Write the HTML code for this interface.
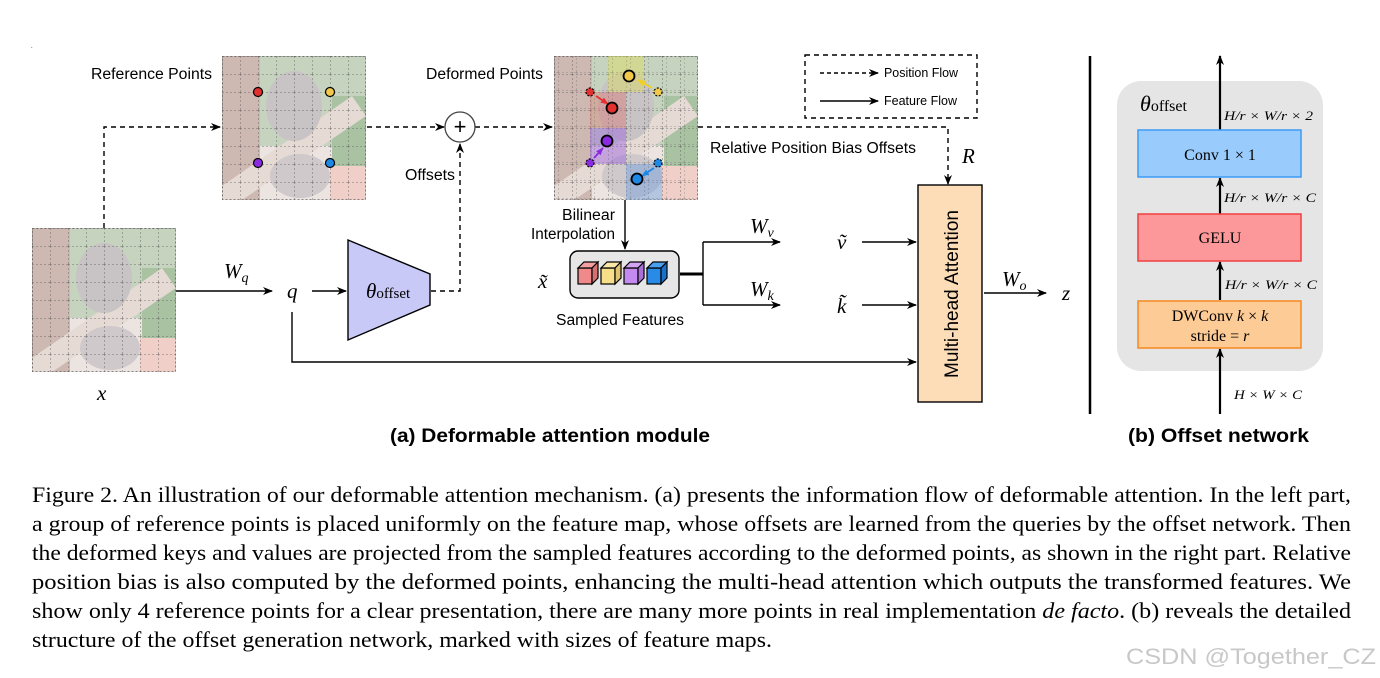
<!DOCTYPE html>
<html><head><meta charset="utf-8"><style>
html,body{margin:0;padding:0;background:#fff}
svg{display:block}
.s{font-family:"Liberation Sans",sans-serif}
.m{font-family:"Liberation Serif",serif;font-style:italic}
.r{font-family:"Liberation Serif",serif}
</style></head><body>
<svg width="1380" height="678" viewBox="0 0 1380 678" xmlns="http://www.w3.org/2000/svg">
<defs>
<marker id="ah" markerWidth="10" markerHeight="10" refX="9" refY="5" orient="auto" markerUnits="userSpaceOnUse"><path d="M0,1 L10,5 L0,9 L3,5 z" fill="#000"/></marker>
<marker id="ahs" markerWidth="8" markerHeight="8" refX="7" refY="4" orient="auto" markerUnits="userSpaceOnUse"><path d="M0,1 L8,4 L0,7 z" fill="context-stroke"/></marker>
<pattern id="grid" width="18" height="18" patternUnits="userSpaceOnUse"><path d="M0,0 H18 M0,0 V18" stroke="#555" stroke-width="0.8" stroke-dasharray="2,2" fill="none"/></pattern>
<g id="cat">
<rect width="144" height="144" fill="#ece4e0"/>
<rect x="0" y="0" width="38" height="144" fill="#cdb8b2"/>
<rect x="38" y="0" width="106" height="90" fill="#c6d4bf"/>
<rect x="110" y="40" width="34" height="70" fill="#a9c2a2"/>
<rect x="108" y="110" width="36" height="34" fill="#f0cfc8"/>
<path d="M0,130 L130,40 L144,60 L20,144 L0,144 z" fill="#e6dad4"/>
<ellipse cx="72" cy="50" rx="28" ry="35" fill="#c8c3c4"/>
<ellipse cx="78" cy="120" rx="30" ry="22" fill="#cfc9cb"/>
<rect width="144" height="144" fill="url(#grid)"/>
<rect x="0.5" y="0.5" width="143" height="143" fill="none" stroke="#666" stroke-width="0.8" stroke-dasharray="2,2"/>
</g>
</defs>

<text x="31" y="48" class="s" font-size="6">.</text>

<use href="#cat" x="32" y="228"/>
<use href="#cat" x="222" y="56"/>
<g>
<use href="#cat" x="554" y="56"/>
<rect x="608" y="56" width="36" height="36" fill="#dede60" opacity="0.45"/>
<rect x="590" y="92" width="36" height="36" fill="#e06060" opacity="0.35"/>
<rect x="590" y="128" width="36" height="36" fill="#9a60e0" opacity="0.45"/>
<rect x="626" y="164" width="36" height="36" fill="#70a0e0" opacity="0.45"/>
<rect x="554" y="56" width="144" height="144" fill="url(#grid)" opacity="0.6"/>
</g>

<circle cx="258" cy="92" r="4.5" fill="#e53030" stroke="#000" stroke-width="1.2"/>
<circle cx="330" cy="92" r="4.5" fill="#f2c84b" stroke="#000" stroke-width="1.2"/>
<circle cx="258" cy="163" r="4.5" fill="#8a2be2" stroke="#000" stroke-width="1.2"/>
<circle cx="330" cy="163" r="4.5" fill="#1e88e5" stroke="#000" stroke-width="1.2"/>

<g stroke-width="1.2">
<circle cx="590" cy="92" r="4" fill="#e53030" stroke="#000" stroke-dasharray="2,1.5"/>
<circle cx="658" cy="92" r="4" fill="#f2c84b" stroke="#000" stroke-dasharray="2,1.5"/>
<circle cx="590" cy="163" r="4" fill="#8a2be2" stroke="#000" stroke-dasharray="2,1.5"/>
<circle cx="658" cy="163" r="4" fill="#1e88e5" stroke="#000" stroke-dasharray="2,1.5"/>
<line x1="596" y1="96" x2="608" y2="104" stroke="#e53030" stroke-width="1.8" marker-end="url(#ahs)"/>
<line x1="652" y1="88" x2="638" y2="80" stroke="#f0d020" stroke-width="1.8" marker-end="url(#ahs)"/>
<line x1="594" y1="158" x2="603" y2="148" stroke="#8a2be2" stroke-width="1.8" marker-end="url(#ahs)"/>
<line x1="654" y1="168" x2="642" y2="176" stroke="#1e88e5" stroke-width="1.8" marker-end="url(#ahs)"/>
<circle cx="612" cy="108" r="5.5" fill="#e53030" stroke="#000" stroke-width="1.8"/>
<circle cx="629" cy="76" r="5.5" fill="#f2c84b" stroke="#000" stroke-width="1.8"/>
<circle cx="607" cy="141" r="5.5" fill="#8a2be2" stroke="#000" stroke-width="1.8"/>
<circle cx="637" cy="179" r="5.5" fill="#1e88e5" stroke="#000" stroke-width="1.8"/>
</g>

<g class="s" font-size="15.5">
<text x="91" y="79" textLength="121" lengthAdjust="spacingAndGlyphs">Reference Points</text>
<text x="426" y="79" textLength="117" lengthAdjust="spacingAndGlyphs">Deformed Points</text>
<text x="405" y="180" textLength="50" lengthAdjust="spacingAndGlyphs">Offsets</text>
<text x="710" y="153" textLength="206" lengthAdjust="spacingAndGlyphs">Relative Position Bias Offsets</text>
<text x="562" y="220" textLength="53" lengthAdjust="spacingAndGlyphs">Bilinear</text>
<text x="531" y="239" textLength="84" lengthAdjust="spacingAndGlyphs">Interpolation</text>
<text x="556" y="325" textLength="128" lengthAdjust="spacingAndGlyphs">Sampled Features</text>
</g>

<g fill="none" stroke="#000" stroke-width="1.4" stroke-dasharray="5,4">
<path d="M104,228 V127 H220" marker-end="url(#ah)"/>
<path d="M367,127 H444" marker-end="url(#ah)"/>
<path d="M475,127 H552" marker-end="url(#ah)"/>
<path d="M431,291 H460 V144" marker-end="url(#ah)"/>
<path d="M698,127 H948 V184" marker-end="url(#ah)"/>
</g>
<circle cx="460" cy="127" r="15" fill="#fff" stroke="#444" stroke-width="1.3"/>
<text x="460" y="134" class="s" font-size="22" text-anchor="middle">+</text>

<rect x="805" y="55" width="172" height="63" fill="#fff" stroke="#000" stroke-width="1.4" stroke-dasharray="5,4"/>
<line x1="820" y1="73" x2="878" y2="73" stroke="#000" stroke-width="1.4" stroke-dasharray="4,3" marker-end="url(#ah)"/>
<line x1="820" y1="101" x2="878" y2="101" stroke="#000" stroke-width="1.4" marker-end="url(#ah)"/>
<text x="884" y="77" class="s" font-size="12.5" textLength="74" lengthAdjust="spacingAndGlyphs">Position Flow</text>
<text x="884" y="105" class="s" font-size="12.5" textLength="73" lengthAdjust="spacingAndGlyphs">Feature Flow</text>

<g fill="none" stroke="#000" stroke-width="1.4">
<path d="M176,291 H272" marker-end="url(#ah)"/>
<path d="M312,291 H346" marker-end="url(#ah)"/>
<path d="M292,312 V362 H916" marker-end="url(#ah)"/>
<path d="M625,200 V249" marker-end="url(#ah)"/>
<path d="M703,242 V305"/>
<path d="M703,242 H780" marker-end="url(#ah)"/>
<path d="M703,305 H780" marker-end="url(#ah)"/>
<path d="M862,242 H916" marker-end="url(#ah)"/>
<path d="M862,305 H916" marker-end="url(#ah)"/>
<path d="M984,293 H1046" marker-end="url(#ah)"/>
</g>
<line x1="680" y1="274" x2="703" y2="274" stroke="#000" stroke-width="3"/>

<path d="M348,240 L430,274 L430,305 L348,340 z" fill="#c9c9f7" stroke="#000" stroke-width="1.4"/>
<text x="366" y="298" class="m" font-size="21">θ<tspan font-style="normal" font-size="15">offset</tspan></text>

<rect x="570" y="251" width="109" height="47" rx="8" fill="#e6e6e6" stroke="#000" stroke-width="1.4"/>
<g stroke="#000" stroke-width="1.2">
<g><rect x="578" y="268" width="14" height="16" fill="#f08a8a"/><path d="M578,268 l6,-6 h14 l-6,6z" fill="#f4a0a0"/><path d="M592,268 l6,-6 v16 l-6,6z" fill="#d87070"/></g>
<g><rect x="601" y="268" width="14" height="16" fill="#f7df8a"/><path d="M601,268 l6,-6 h14 l-6,6z" fill="#fae8a8"/><path d="M615,268 l6,-6 v16 l-6,6z" fill="#e0c470"/></g>
<g><rect x="624" y="268" width="14" height="16" fill="#c48af0"/><path d="M624,268 l6,-6 h14 l-6,6z" fill="#d2a4f4"/><path d="M638,268 l6,-6 v16 l-6,6z" fill="#a870d8"/></g>
<g><rect x="647" y="268" width="14" height="16" fill="#2a8ae8"/><path d="M647,268 l6,-6 h14 l-6,6z" fill="#4aa0f0"/><path d="M661,268 l6,-6 v16 l-6,6z" fill="#1a70c8"/></g>
</g>

<text x="224" y="278" class="m" font-size="21">W<tspan font-size="14" dy="4">q</tspan></text>
<text x="287" y="298" class="m" font-size="21">q</text>
<text x="97" y="400" class="m" font-size="21">x</text>
<text x="538" y="288" class="m" font-size="21">x̃</text>
<text x="750" y="233" class="m" font-size="21">W<tspan font-size="14" dy="4">v</tspan></text>
<text x="750" y="296" class="m" font-size="21">W<tspan font-size="14" dy="4">k</tspan></text>
<text x="837" y="249" class="m" font-size="21">ṽ</text>
<text x="837" y="313" class="m" font-size="21">k̃</text>
<text x="962" y="163" class="m" font-size="21">R</text>
<text x="1002" y="286" class="m" font-size="21">W<tspan font-size="14" dy="4">o</tspan></text>
<text x="1062" y="300" class="m" font-size="21">z</text>

<rect x="918" y="185" width="64" height="217" fill="#fdddb8" stroke="#000" stroke-width="1.4"/>
<text transform="translate(958,294) rotate(-90)" class="s" font-size="19" text-anchor="middle">Multi-head Attention</text>

<line x1="1090" y1="56" x2="1090" y2="414" stroke="#000" stroke-width="2.5"/>

<rect x="1117" y="81" width="206" height="290" rx="24" fill="#e5e5e5"/>
<text x="1140" y="111" class="m" font-size="22">θ<tspan font-style="normal" font-size="16">offset</tspan></text>
<line x1="1220" y1="414" x2="1220" y2="349" stroke="#000" stroke-width="2.2" marker-end="url(#ah)"/>
<line x1="1220" y1="300" x2="1220" y2="262" stroke="#000" stroke-width="2.2" marker-end="url(#ah)"/>
<line x1="1220" y1="214" x2="1220" y2="178" stroke="#000" stroke-width="2.2" marker-end="url(#ah)"/>
<line x1="1220" y1="130" x2="1220" y2="56" stroke="#000" stroke-width="2.2" marker-end="url(#ah)"/>
<rect x="1138" y="130" width="163" height="47" fill="#99ccfc" stroke="#3d9bf5" stroke-width="1.5"/>
<rect x="1138" y="214" width="163" height="47" fill="#fc989a" stroke="#ee4040" stroke-width="1.5"/>
<rect x="1138" y="301" width="163" height="47" fill="#fdcb96" stroke="#f58a20" stroke-width="1.5"/>
<text x="1220" y="160" class="r" font-size="16" text-anchor="middle">Conv 1 × 1</text>
<text x="1220" y="243" class="r" font-size="16" text-anchor="middle">GELU</text>
<text x="1220" y="321" class="r" font-size="16" text-anchor="middle">DWConv <tspan font-style="italic">k</tspan> × <tspan font-style="italic">k</tspan></text>
<text x="1220" y="341" class="r" font-size="16" text-anchor="middle">stride = <tspan font-style="italic">r</tspan></text>
<g class="m" font-size="13">
<text x="1224" y="120" textLength="89" lengthAdjust="spacingAndGlyphs">H/r × W/r × 2</text>
<text x="1224" y="202" textLength="92" lengthAdjust="spacingAndGlyphs">H/r × W/r × C</text>
<text x="1225" y="289" textLength="92" lengthAdjust="spacingAndGlyphs">H/r × W/r × C</text>
<text x="1234" y="399" textLength="68" lengthAdjust="spacingAndGlyphs">H × W × C</text>
</g>

<text x="390" y="442" class="s" font-size="19" font-weight="bold" textLength="320" lengthAdjust="spacingAndGlyphs">(a)  Deformable attention module</text>
<text x="1128" y="442" class="s" font-size="19" font-weight="bold" textLength="181" lengthAdjust="spacingAndGlyphs">(b)  Offset network</text>

<g class="r" font-size="22" fill="#000">
<text x="32" y="502" textLength="1319" lengthAdjust="spacingAndGlyphs">Figure 2. An illustration of our deformable attention mechanism. (a) presents the information flow of deformable attention. In the left part,</text>
<text x="32" y="531" textLength="1319" lengthAdjust="spacingAndGlyphs">a group of reference points is placed uniformly on the feature map, whose offsets are learned from the queries by the offset network. Then</text>
<text x="32" y="560" textLength="1319" lengthAdjust="spacingAndGlyphs">the deformed keys and values are projected from the sampled features according to the deformed points, as shown in the right part. Relative</text>
<text x="32" y="589" textLength="1319" lengthAdjust="spacingAndGlyphs">position bias is also computed by the deformed points, enhancing the multi-head attention which outputs the transformed features.  We</text>
<text x="32" y="618" textLength="1319" lengthAdjust="spacingAndGlyphs">show only 4 reference points for a clear presentation, there are many more points in real implementation <tspan font-style="italic">de facto</tspan>. (b) reveals the detailed</text>
<text x="32" y="647" textLength="740" lengthAdjust="spacingAndGlyphs">structure of the offset generation network, marked with sizes of feature maps.</text>
</g>
<text x="1126" y="664" class="s" font-size="22" fill="#c8c8c8" textLength="250" lengthAdjust="spacingAndGlyphs">CSDN @Together_CZ</text>
</svg>
</body></html>
